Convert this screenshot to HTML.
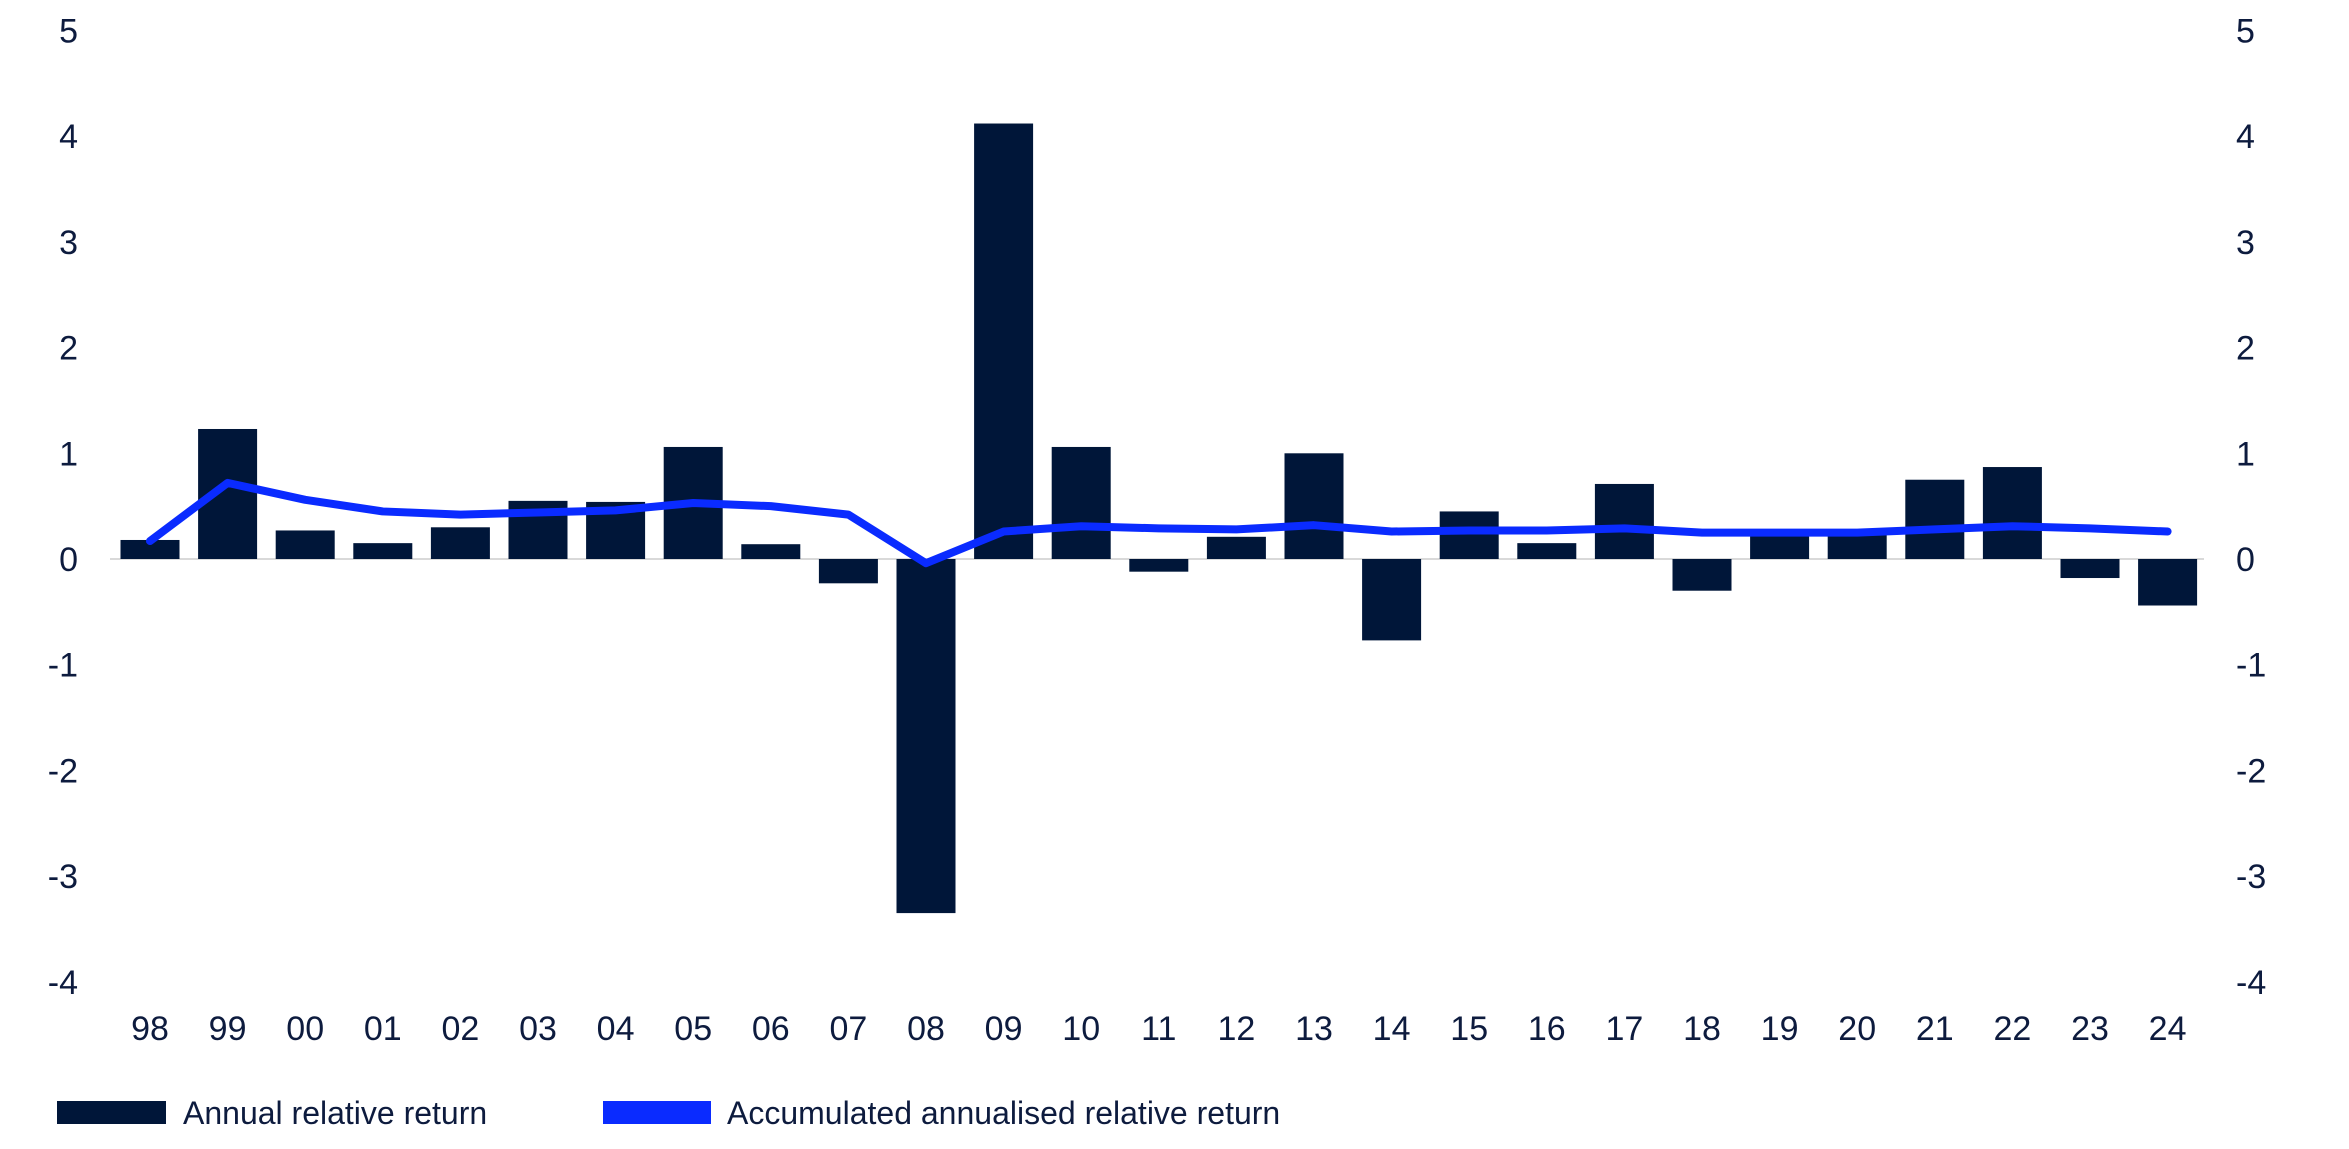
<!DOCTYPE html>
<html><head><meta charset="utf-8"><style>
html,body{margin:0;padding:0;background:#fff;}
svg text{font-family:"Liberation Sans",sans-serif;fill:#0d1b3e;}
</style></head><body>
<svg id="chart" width="2349" height="1144" viewBox="0 0 2349 1144" xmlns="http://www.w3.org/2000/svg"></svg>
<script>
const categories=["98","99","00","01","02","03","04","05","06","07","08","09","10","11","12","13","14","15","16","17","18","19","20","21","22","23","24"];
const annualReturn=[0.18,1.23,0.27,0.15,0.30,0.55,0.54,1.06,0.14,-0.23,-3.35,4.12,1.06,-0.12,0.21,1.0,-0.77,0.45,0.15,0.71,-0.30,0.26,0.26,0.75,0.87,-0.18,-0.44];
const accumulated=[0.17,0.72,0.56,0.45,0.42,0.44,0.46,0.53,0.50,0.42,-0.04,0.26,0.31,0.29,0.28,0.32,0.26,0.27,0.27,0.29,0.25,0.25,0.25,0.28,0.31,0.29,0.26];
const yTicks=[5,4,3,2,1,0,-1,-2,-3,-4];

const NS="http://www.w3.org/2000/svg";
const svg=document.getElementById('chart');
const y=v=>559-v*105.7;
const x=i=>150+i*77.6;
function mk(t,a){const e=document.createElementNS(NS,t);for(const k in a)e.setAttribute(k,a[k]);svg.appendChild(e);return e;}

const zl=mk('line',{x1:110,x2:2204,y1:y(0),y2:y(0),stroke:'#d9d9d9','stroke-width':2});



yTicks.forEach(v=>{
  const l=mk('text',{x:78,y:y(v)+12,'font-size':34,'text-anchor':'end'});l.textContent=String(v);
  
  
  const r=mk('text',{x:2236,y:y(v)+12,'font-size':34,'text-anchor':'start'});r.textContent=String(v);
  
  
});

annualReturn.forEach((v,i)=>{
  const top=Math.min(y(v),y(0)),h=Math.abs(y(v)-y(0));
  const b=mk('rect',{x:x(i)-29.5,y:top,width:59,height:h,fill:'#001639'});
  
  
});

categories.forEach((c,i)=>{
  const t=mk('text',{x:x(i),y:1040,'font-size':34,'text-anchor':'middle'});t.textContent=c;
  
  
});

const pts=accumulated.map((v,i)=>x(i)+','+y(v)).join(' ');
const pl=mk('polyline',{points:pts,fill:'none',stroke:'#0a2bff','stroke-width':8,'stroke-linejoin':'round','stroke-linecap':'round'});



const r1=mk('rect',{x:57,y:1101,width:109,height:23,fill:'#001639'});


const t1=mk('text',{x:183,y:1124,'font-size':32});t1.textContent='Annual relative return';


const r2=mk('rect',{x:603,y:1101,width:108,height:23,fill:'#0a2bff'});


const t2=mk('text',{x:727,y:1124,'font-size':32});t2.textContent='Accumulated annualised relative return';


</script>
</body></html>
